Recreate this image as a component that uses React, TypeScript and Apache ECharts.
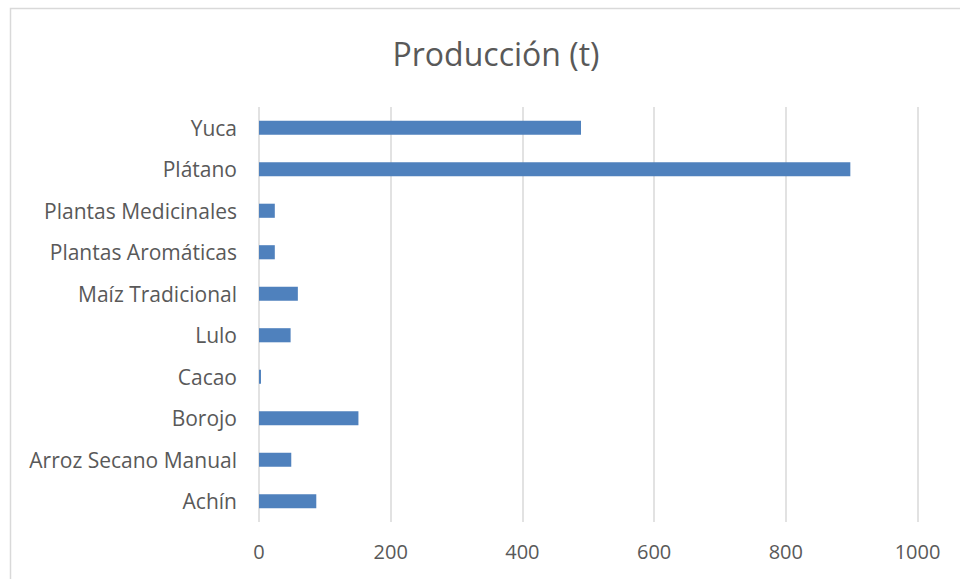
import React, { useEffect, useRef } from "react";
import * as echarts from "echarts";

const categories = [
  "Achín",
  "Arroz Secano Manual",
  "Borojo",
  "Cacao",
  "Lulo",
  "Maíz Tradicional",
  "Plantas Aromáticas",
  "Plantas Medicinales",
  "Plátano",
  "Yuca",
];
const production = [87, 49, 151, 3, 48, 59, 24, 24, 898, 489];
const xTicks = { min: 0, max: 1000, interval: 200 };
const title = "Producción (t)";

export default function App() {
  const ref = useRef<HTMLDivElement>(null);
  useEffect(() => {
    const chart = echarts.init(ref.current!, null, { renderer: "svg" });
    chart.setOption({
      animation: false,
      backgroundColor: "#ffffff",
      textStyle: { fontFamily: "Open Sans" },
      graphic: [
        {
          type: "rect",
          shape: { x: 10.5, y: 8.5, width: 1000, height: 700 },
          style: { fill: "none", stroke: "#d9d9d9", lineWidth: 1.5 },
          silent: true,
        },
      ],
      title: {
        text: title,
        left: 491,
        top: 32,
        textAlign: "center",
        textStyle: { fontFamily: "Open Sans", fontSize: 32, fontWeight: "normal", color: "#595959" },
      },
      grid: { left: 259, right: 42.5, top: 107, bottom: 57, containLabel: false },
      xAxis: {
        type: "value",
        min: xTicks.min,
        max: xTicks.max,
        interval: xTicks.interval,
        axisLine: { show: false },
        axisTick: { show: false },
        axisLabel: {
          color: "#595959",
          fontSize: 20,
          fontFamily: "Open Sans",
          margin: 19,
          formatter: (v: number) => String(v),
        },
        splitLine: { show: true, lineStyle: { color: "#d9d9d9", width: 1.5 } },
      },
      yAxis: {
        type: "category",
        data: categories,
        axisLine: { show: false },
        axisTick: { show: false },
        axisLabel: { color: "#595959", fontSize: 21, fontFamily: "Open Sans", margin: 22 },
      },
      series: [
        {
          type: "bar",
          data: production,
          barWidth: "34%",
          itemStyle: { color: "#4f81bd" },
        },
      ],
    });
    return () => chart.dispose();
  }, []);
  return (
    <div
      ref={ref}
      style={{ position: "fixed", left: 0, top: 0, width: 960, height: 579 }}
    />
  );
}
